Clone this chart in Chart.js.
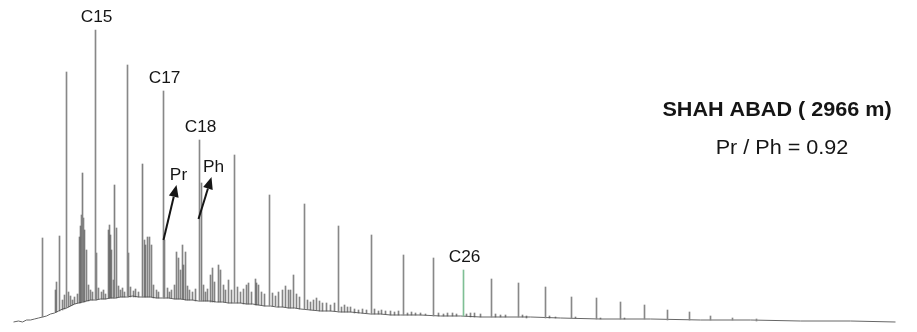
<!DOCTYPE html>
<html>
<head>
<meta charset="utf-8">
<script src="https://cdn.jsdelivr.net/npm/chart.js@4.4.1/dist/chart.umd.min.js"></script>
<style>
  body { margin: 0; background: #fff; }
  #wrap { width: 917px; height: 332px; position: relative; }
</style>
</head>
<body>
<div id="wrap"><canvas id="chart"></canvas></div>
<script>
// GC trace, SHAH ABAD 2966 m. x = retention time (min), y = detector signal
const baseRt = [1.3, 1.8, 2.2, 2.6, 3.0, 3.4, 3.8, 4.2, 4.6, 5.0, 5.4, 5.8, 6.2, 6.6, 7.0, 7.4, 7.8, 8.2, 8.6, 9.0,
  9.5, 10.0, 10.5, 11.0, 11.5, 12.0, 12.6, 13.2, 13.8, 14.4, 15.0, 15.6, 16.2, 16.8, 17.4, 18.0, 18.6, 19.2, 19.8, 20.4,
  21.0, 21.6, 22.2, 22.8, 23.4, 24.0, 24.6, 25.2, 25.8, 26.4, 27.0, 27.6, 28.2, 28.8, 29.4, 30.0, 31.0, 32.0, 33.0, 34.0,
  35.0, 36.0, 37.0, 38.0, 39.0, 40.0, 42.0, 44.0, 46.0, 48.0, 50.0, 53.0, 56.0, 60.0, 65.0, 70.0, 75.0, 80.0, 85.0, 89.5];
const baseSig = [0, 1, 0, 2, 2, 3, 4, 5, 6, 8, 9, 11, 13, 14, 16, 18, 19, 20, 21, 22,
  22, 23, 23, 24, 24, 25, 25, 26, 25, 25, 25, 24, 24, 24, 23, 23, 22, 22, 21, 21,
  21, 20, 20, 19, 19, 19, 18, 18, 17, 16, 16, 15, 15, 14, 14, 13, 12, 11, 11, 10,
  10, 9, 8, 8, 7, 7, 7, 6, 6, 5, 5, 5, 4, 3, 3, 2, 2, 1, 1, 0];

// n-alkanes
const alkaneName = ['C13', 'C14', 'C15', 'C16', 'C17', 'C18', 'C19', 'C20', 'C21', 'C22', 'C23', 'C24', 'C25',
  'C26', 'C27', 'C28', 'C29', 'C30', 'C31', 'C32', 'C33', 'C34', 'C35', 'C36', 'C37', 'C38'];
const alkaneRt = [4.2, 6.6, 9.5, 12.7, 16.3, 19.9, 23.4, 26.9, 30.4, 33.8, 37.1, 40.3, 43.3,
  46.3, 49.1, 51.8, 54.5, 57.1, 59.6, 62.0, 64.4, 66.7, 68.9, 71.0, 73.2, 75.6];
const alkaneTop = [84, 250, 292, 257, 231, 182, 167, 127, 118, 96, 87, 67, 64,
  52, 43, 39, 35, 25, 24, 20, 17, 12, 10, 6, 4, 3];
const alkaneBase = [5, 14, 22, 25, 24, 21, 19, 16, 13, 10, 8, 7, 6,
  6, 5, 5, 4, 4, 3, 3, 3, 2, 2, 2, 2, 1];
const labelled = ['C15', 'C17', 'C18', 'C26'];

// isoprenoids (pristane, phytane) and other branched peaks
const isoName = ['', '', '', 'Pr', 'Ph'];
const isoRt = [8.2, 11.4, 14.2, 16.4, 20.1];
const isoTop = [149, 137, 158, 82, 139];
const isoBase = [20, 24, 25, 24, 21];

// unresolved small peaks
const minorRt = [5.5, 5.6, 5.9, 6.2, 6.4, 6.8, 7.0, 7.2, 7.4, 7.7,
  7.9, 8.0, 8.1, 8.3, 8.4, 8.6, 8.8, 9.0, 9.2, 9.6,
  9.8, 10.1, 10.3, 10.5, 10.8, 10.9, 11.0, 11.1, 11.3, 11.6,
  11.8, 12.0, 12.2, 12.4, 12.8, 13.0, 13.3, 13.5, 13.8, 14.4,
  14.5, 14.7, 14.9, 15.1, 15.3, 15.6, 15.8, 16.7, 16.9, 17.1,
  17.4, 17.6, 17.8, 18.0, 18.2, 18.3, 18.5, 18.7, 18.9, 19.2,
  19.5, 20.3, 20.5, 20.7, 21.0, 21.2, 21.4, 21.8, 22.0, 22.3,
  22.5, 22.8, 23.1, 23.7, 24.0, 24.3, 24.6, 24.8, 25.1, 25.5,
  25.6, 25.8, 26.1, 26.4, 27.2, 27.5, 27.8, 28.2, 28.5, 28.8,
  29.0, 29.3, 29.6, 29.9, 30.7, 31.0, 31.3, 31.6, 31.9, 32.2,
  32.6, 33.0, 33.4, 34.1, 34.4, 34.7, 35.0, 35.4, 35.8, 36.2,
  36.6, 37.4, 37.8, 38.1, 38.5, 39.0, 39.4, 39.8, 40.7, 41.1,
  41.5, 42.0, 42.5, 43.8, 44.3, 44.7, 45.2, 45.6, 46.6, 47.0,
  47.4, 48.0, 49.5, 50.0, 50.5, 52.2, 52.6, 54.9, 55.5, 57.5,
  60.0, 62.4];
const minorTop = [32, 40, 86, 22, 27, 30, 26, 22, 25, 28,
  85, 96, 107, 104, 92, 72, 37, 32, 30, 69,
  34, 30, 32, 28, 92, 97, 87, 72, 42, 94,
  36, 32, 34, 30, 69, 35, 31, 33, 30, 82,
  77, 85, 85, 77, 37, 32, 30, 34, 30, 32,
  37, 70, 64, 52, 77, 57, 70, 36, 32, 30,
  33, 37, 30, 33, 47, 54, 40, 57, 52, 37,
  32, 42, 32, 35, 30, 33, 37, 39, 30, 43,
  39, 37, 30, 28, 29, 26, 30, 32, 36, 32,
  32, 47, 28, 25, 22, 20, 22, 24, 21, 19,
  19, 17, 19, 15, 17, 15, 15, 13, 12, 13,
  12, 13, 11, 12, 11, 11, 10, 11, 9, 10,
  9, 9, 8, 9, 8, 9, 9, 8, 8, 9,
  9, 8, 8, 7, 7, 7, 6, 6, 5, 5,
  4, 4];
const minorBase = [10, 10, 11, 12, 13, 15, 16, 17, 18, 19,
  19, 19, 20, 20, 20, 21, 21, 22, 22, 22,
  23, 23, 23, 23, 24, 24, 24, 24, 24, 24,
  25, 25, 25, 25, 25, 25, 25, 25, 25, 25,
  25, 25, 25, 25, 24, 24, 24, 24, 24, 24,
  23, 23, 23, 23, 23, 23, 22, 22, 22, 22,
  21, 21, 21, 21, 20, 20, 20, 20, 20, 20,
  20, 19, 19, 19, 19, 18, 18, 18, 18, 17,
  17, 17, 17, 16, 16, 16, 15, 15, 15, 14,
  14, 14, 14, 13, 13, 12, 12, 12, 11, 11,
  11, 11, 11, 10, 10, 10, 10, 9, 9, 9,
  9, 8, 8, 8, 8, 7, 7, 7, 7, 7,
  7, 7, 7, 6, 6, 6, 6, 6, 6, 5,
  5, 5, 5, 5, 5, 5, 4, 4, 4, 4,
  3, 3];

const arrowMarks = [
  { name: 'Pr', from: [16.3, 82], to: [17.6, 137] },
  { name: 'Ph', from: [19.8, 103], to: [21.1, 145] }
];

const FONT = '"Liberation Sans", Arial, sans-serif';

function wideText(ctx, text, x, y) {
  ctx.save();
  ctx.translate(x, y);
  ctx.scale(1.08, 1);
  ctx.fillText(text, 0, 0);
  ctx.restore();
}

const annotate = {
  id: 'annotate',
  afterDatasetsDraw(chart) {
    const { ctx, scales: { x, y }, chartArea } = chart;
    ctx.save();
    ctx.fillStyle = '#151515';
    ctx.strokeStyle = '#151515';
    ctx.textAlign = 'center';
    ctx.textBaseline = 'bottom';
    ctx.font = '16px ' + FONT;
    alkaneName.forEach((n, i) => {
      if (!labelled.includes(n)) return;
      wideText(ctx, n, x.getPixelForValue(alkaneRt[i]) + 1, y.getPixelForValue(alkaneTop[i]) - 4);
    });

    arrowMarks.forEach(a => {
      const x0 = x.getPixelForValue(a.from[0]), y0 = y.getPixelForValue(a.from[1]);
      const x1 = x.getPixelForValue(a.to[0]), y1 = y.getPixelForValue(a.to[1]);
      const ang = Math.atan2(y1 - y0, x1 - x0);
      const hl = 12, hw = 5;
      const bx = x1 - hl * Math.cos(ang), by = y1 - hl * Math.sin(ang);
      ctx.lineWidth = 2;
      ctx.beginPath();
      ctx.moveTo(x0, y0);
      ctx.lineTo(bx, by);
      ctx.stroke();
      ctx.beginPath();
      ctx.moveTo(x1, y1);
      ctx.lineTo(bx + hw * Math.sin(ang), by - hw * Math.cos(ang));
      ctx.lineTo(bx - hw * Math.sin(ang), by + hw * Math.cos(ang));
      ctx.closePath();
      ctx.fill();
      wideText(ctx, a.name, x1 + 2, y1 - 1);
    });

    ctx.textBaseline = 'middle';
    ctx.font = 'bold 20px ' + FONT;
    wideText(ctx, 'SHAH ABAD ( 2966 m)', chartArea.right - 140, 110);
    ctx.font = '20px ' + FONT;
    wideText(ctx, 'Pr / Ph = 0.92', chartArea.right - 135, 148);
    ctx.restore();
  }
};

const floating = (rt, top, base) => rt.map((t, i) => ({ x: t, y: [base[i], top[i]] }));

new Chart(document.getElementById('chart'), {
  type: 'bar',
  data: {
    datasets: [{
      type: 'line',
      data: baseRt.map((t, i) => ({ x: t, y: baseSig[i] })),
      borderColor: '#666',
      borderWidth: 1,
      pointRadius: 0,
      tension: 0,
      order: 3
    }, {
      data: floating(minorRt, minorTop, minorBase),
      backgroundColor: 'rgba(80,80,80,0.7)',
      barThickness: 1,
      grouped: false,
      order: 2
    }, {
      data: floating(isoRt, isoTop, isoBase),
      backgroundColor: '#808080',
      barThickness: 1,
      grouped: false,
      order: 1
    }, {
      data: floating(alkaneRt, alkaneTop, alkaneBase),
      backgroundColor: ctx => alkaneName[ctx.dataIndex] === 'C26' ? '#7fbf95' : '#888',
      barThickness: 1,
      grouped: false,
      order: 0
    }]
  },
  options: {
    responsive: true,
    maintainAspectRatio: false,
    animation: false,
    layout: { padding: 0 },
    plugins: {
      legend: { display: false },
      tooltip: { enabled: false }
    },
    scales: {
      x: { type: 'linear', min: -0.05, max: 91.65, offset: false, display: false },
      y: { min: -10, max: 322, display: false }
    }
  },
  plugins: [annotate]
});
</script>
</body>
</html>
